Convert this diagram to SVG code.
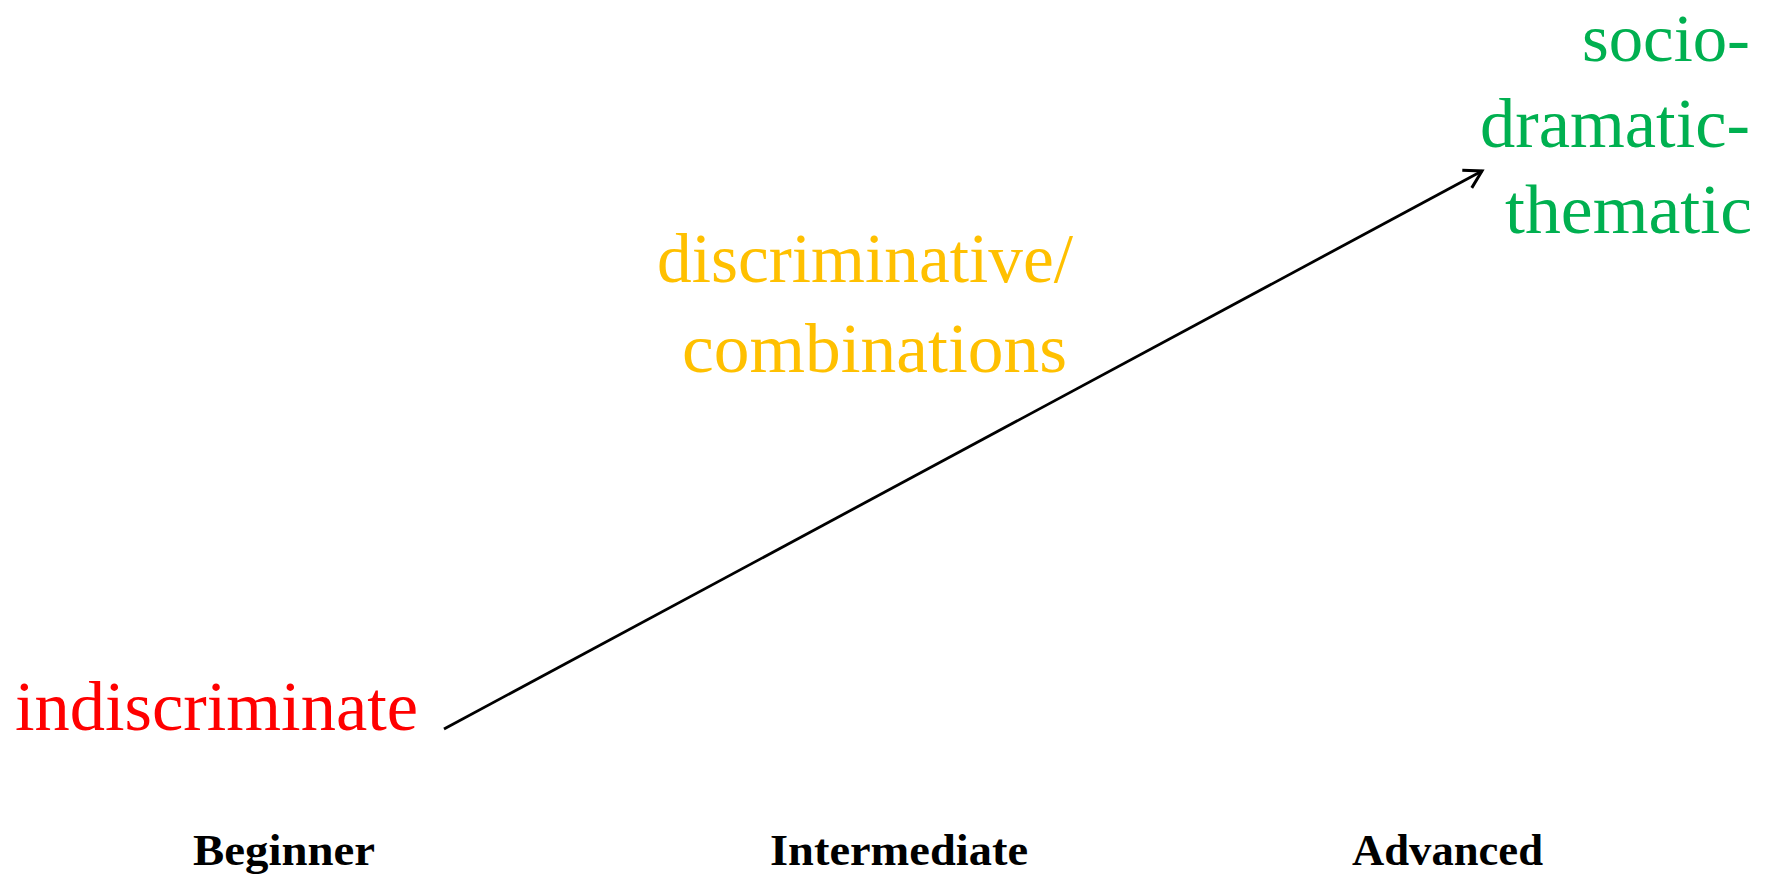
<svg xmlns="http://www.w3.org/2000/svg" width="1768" height="878" viewBox="0 0 1768 878">
<style>
.lbl{font-family:"Liberation Serif",serif;font-size:70px}
.lvl{font-family:"Liberation Serif",serif;font-size:45px;font-weight:bold;fill:#000}
</style>
<defs>
<marker id="ah" markerWidth="24" markerHeight="28" refX="20" refY="14" orient="auto" markerUnits="userSpaceOnUse">
<path d="M3,4 L20,14 L3,24" fill="none" stroke="#000" stroke-width="3"/>
</marker>
</defs>
<rect width="1768" height="878" fill="#fff"/>
<g id="connectors">
<line x1="444" y1="729" x2="1482" y2="171" stroke="#000" stroke-width="2.8" marker-end="url(#ah)"/>
</g>
<g id="indiscriminate">
<text class="lbl" x="15" y="730" fill="#ff0000" textLength="403" lengthAdjust="spacingAndGlyphs">indiscriminate</text>
</g>
<g id="discriminative">
<text class="lbl" x="657" y="282" fill="#ffc000" textLength="416" lengthAdjust="spacingAndGlyphs">discriminative/</text>
<text class="lbl" x="682" y="372" fill="#ffc000" textLength="385" lengthAdjust="spacingAndGlyphs">combinations</text>
</g>
<g id="sociodramatic">
<text class="lbl" x="1582" y="61" fill="#00b050" style="font-size:67px" textLength="168" lengthAdjust="spacingAndGlyphs">socio-</text>
<text class="lbl" x="1480" y="147" fill="#00b050" textLength="270" lengthAdjust="spacingAndGlyphs">dramatic-</text>
<text class="lbl" x="1505" y="233" fill="#00b050" textLength="247" lengthAdjust="spacingAndGlyphs">thematic</text>
</g>
<g id="beginner">
<text class="lvl" x="193" y="865" textLength="182" lengthAdjust="spacingAndGlyphs">Beginner</text>
</g>
<g id="intermediate">
<text class="lvl" x="770" y="865" textLength="258" lengthAdjust="spacingAndGlyphs">Intermediate</text>
</g>
<g id="advanced">
<text class="lvl" x="1352" y="865" textLength="191" lengthAdjust="spacingAndGlyphs">Advanced</text>
</g>
</svg>
